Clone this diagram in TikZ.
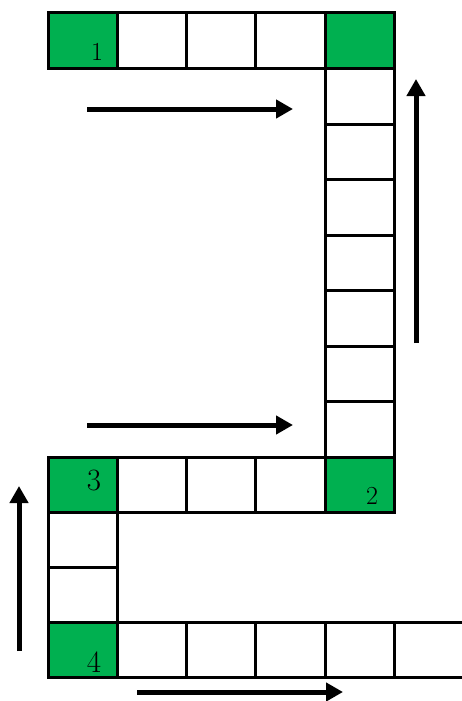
\documentclass[tikz,border=0pt]{standalone}
\usetikzlibrary{arrows.meta}
\definecolor{cellgreen}{HTML}{00B050}
\begin{document}
\begin{tikzpicture}[x=1pt,y=-1pt,
  cell/.style={draw=black,line width=3pt,minimum width=69.3pt,minimum height=55.5pt,anchor=north west,inner sep=0pt,outer sep=0pt},
  gcell/.style={cell,fill=cellgreen},
  bigarrow/.style={line width=5pt,-{Triangle[length=17pt,width=18pt]}},
  numlab/.style={inner sep=0pt,font=\fontsize{26}{28}\selectfont},
  numbig/.style={inner sep=0pt,font=\fontsize{31}{33}\selectfont}]
\useasboundingbox (0,0) rectangle (461,701);
% top row
\node[gcell] (t1) at (48,13) {};
\node[cell] (t2) at (117.3,13) {};
\node[cell] (t3) at (186.6,13) {};
\node[cell] (t4) at (255.9,13) {};
\node[gcell] (t5) at (325.2,13) {};
% right column
\foreach \i in {1,...,7}{
  \node[cell] (r\i) at (325.2,{13+55.5*\i}) {};
}
% middle row
\node[gcell] (m1) at (48,457) {};
\node[cell] (m2) at (117.3,457) {};
\node[cell] (m3) at (186.6,457) {};
\node[cell] (m4) at (255.9,457) {};
\node[gcell] (m5) at (325.2,457) {};
% left column
\node[cell,minimum height=55pt] (l1) at (48,512.5) {};
\node[cell,minimum height=55pt] (l2) at (48,567.3) {};
% bottom row
\node[gcell] (b1) at (48,622) {};
\node[cell] (b2) at (117.3,622) {};
\node[cell] (b3) at (186.6,622) {};
\node[cell] (b4) at (255.9,622) {};
\node[cell] (b5) at (325.2,622) {};
\node[cell] (b6) at (394.5,622) {};
% labels
\node[numlab] (n1) at (97,52) {1};
\node[numlab] (n2) at (372,496) {2};
\node[numbig] (n3) at (94,480) {3};
\node[numbig] (n4) at (94,662) {4};
% arrows
\coordinate (a1s) at (87,109); \coordinate (a1e) at (293,109);
\coordinate (a2s) at (87,425); \coordinate (a2e) at (293,425);
\coordinate (a3s) at (416,343); \coordinate (a3e) at (416,79);
\coordinate (a4s) at (19,651); \coordinate (a4e) at (19,486);
\coordinate (a5s) at (137,692); \coordinate (a5e) at (343,692);
\draw[bigarrow] (a1s) -- (a1e);
\draw[bigarrow] (a2s) -- (a2e);
\draw[bigarrow] (a3s) -- (a3e);
\draw[bigarrow] (a4s) -- (a4e);
\draw[bigarrow] (a5s) -- (a5e);
\end{tikzpicture}
\end{document}
